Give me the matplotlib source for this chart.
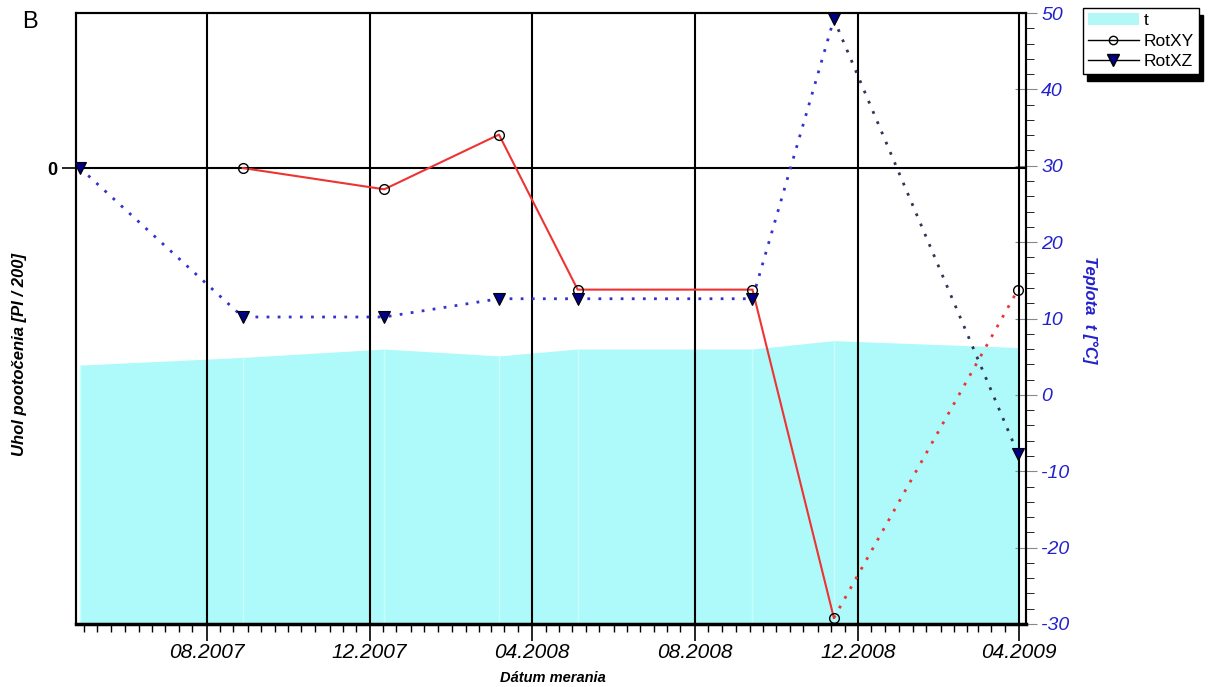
import numpy as np
import matplotlib
matplotlib.use('Agg')
import matplotlib.pyplot as plt
import matplotlib.dates as mdates
from matplotlib.patches import Patch
from matplotlib.lines import Line2D

plt.rcParams['font.family'] = ['Liberation Sans', 'DejaVu Sans']
plt.rcParams['axes.unicode_minus'] = False

# measurement dates
dates = np.array(['2007-04-28', '2007-08-28', '2007-12-12', '2008-03-07',
                  '2008-05-05', '2008-09-13', '2008-11-13', '2009-03-31'],
                 dtype='datetime64[D]')
temp = [3.9, 4.9, 6.0, 5.1, 6.0, 6.0, 7.1, 6.2]
# RotXY starts at the second date
rot_xy = [0.0, -0.7, 1.1, -4.0, -4.0, -14.8, -4.0]
rot_xz = [0.0, -4.9, -4.9, -4.3, -4.3, -4.3, 4.9, -9.4]

fig = plt.figure(figsize=(12.11, 6.87), dpi=100)
ax = fig.add_axes([76/1211, 1-624/687, (1026-76)/1211, (624-13)/687])
ax2 = ax.twinx()
ax.set_zorder(ax2.get_zorder() + 1)
ax.patch.set_visible(False)

# temperature area
ax2.fill_between(dates, temp, -30, color='#aef9f9', lw=0)
ax2.vlines(dates, -30, temp, colors='#c9ffff', lw=1)
ax2.set_ylim(-30, 50)
ax2.set_yticks(np.arange(-30, 51, 10))
ax2.set_yticks(np.arange(-30, 51, 2), minor=True)
ax2.tick_params(axis='y', which='major', direction='inout', length=16, color='#888888',
                labelcolor='#2222cc', labelsize=14, pad=3)
ax2.tick_params(axis='y', which='minor', direction='out', length=6, color='black')
for lab in ax2.get_yticklabels():
    lab.set_fontstyle('italic')

# rotations
dot = (0, (1, 3))
xy_d = dates[1:]
ax.plot(xy_d[:6], rot_xy[:6], '-', color='#ee3333', lw=1.5, zorder=3)
ax.plot(xy_d[5:], rot_xy[5:], ls=dot, color='#ee3333', lw=2, zorder=3)
ax.plot(dates[:7], rot_xz[:7], ls=dot, color='#3333cc', lw=2, zorder=3)
ax.plot(dates[6:], rot_xz[6:], ls=dot, color='#333355', lw=2, zorder=3)
ax.plot(xy_d, rot_xy, 'o', mfc='none', mec='black', ms=7, mew=1, zorder=4)
ax.plot(dates, rot_xz, 'v', mfc='#000080', mec='black', ms=9, mew=0.8, zorder=4)

ax.set_ylim(-15, 5.1)
ax.set_yticks([0])
ax.set_yticklabels(['0'], fontweight='bold', fontsize=13)
ax.tick_params(axis='y', length=10, width=1.2)
ax.axhline(0, color='black', lw=1.5, zorder=2)

ax.set_xlim(np.datetime64('2007-04-25'), np.datetime64('2009-04-06'))
ax.xaxis.set_major_locator(mdates.MonthLocator(bymonth=[4, 8, 12]))
ax.xaxis.set_major_formatter(mdates.DateFormatter('%m.%Y'))
ax.xaxis.set_minor_locator(mdates.DayLocator(bymonthday=[1, 11, 21]))
ax.tick_params(axis='x', which='major', length=12, width=1.2, labelsize=15, pad=2)
ax.tick_params(axis='x', which='minor', length=6, width=1)
for lab in ax.get_xticklabels():
    lab.set_fontstyle('italic')
ax.grid(axis='x', which='major', color='black', lw=1.5)

for side in ['left', 'top', 'right']:
    ax.spines[side].set_linewidth(1.5)
    ax2.spines[side].set_linewidth(1.5)
ax.spines['bottom'].set_linewidth(2.5)

fig.text(30/1211, 1-22/687, 'B', fontsize=17, va='center', ha='center')
fig.text(20/1211, 1-355/687, 'Uhol pootočenia [PI / 200]', rotation=90,
         fontsize=12, fontweight='bold', fontstyle='italic', ha='center', va='center')
fig.text(1090/1211, 1-310/687, 'Teplota  t [°C]', rotation=-90, color='#2222cc',
         fontsize=12, fontweight='bold', fontstyle='italic', ha='center', va='center')
fig.text(553/1211, 1-678/687, 'Dátum merania', fontsize=10.5, fontweight='bold',
         fontstyle='italic', ha='center', va='center')

handles = [Patch(facecolor='#b3f7f7', edgecolor='none'),
           Line2D([], [], color='black', lw=1, marker='o', mfc='none', mec='black', ms=6),
           Line2D([], [], color='black', lw=1, marker='v', mfc='#000080', mec='black', ms=8)]
fig.legend(handles, ['t', 'RotXY', 'RotXZ'], loc='upper left',
           bbox_to_anchor=(1083/1211, 1-8/687), fontsize=12.5, frameon=True,
           fancybox=False, edgecolor='black', framealpha=1, handlelength=2.9,
           borderpad=0.3, labelspacing=0.3, handletextpad=0.3, borderaxespad=0,
           shadow={'color': 'black', 'alpha': 1, 'ox': 3, 'oy': -5})

fig.savefig('out.png', dpi=100)
